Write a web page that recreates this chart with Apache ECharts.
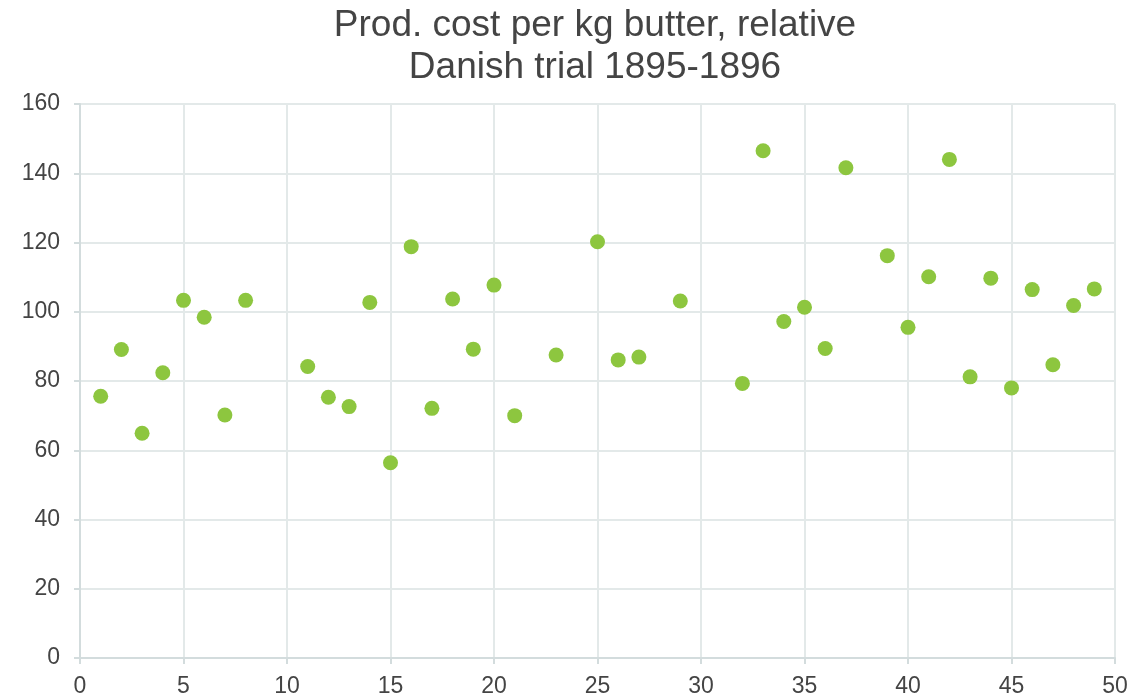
<!DOCTYPE html>
<html>
<head>
<meta charset="utf-8">
<script src="https://cdn.jsdelivr.net/npm/echarts@6/dist/echarts.min.js"></script>
<style>
  html, body { margin: 0; padding: 0; background: #fff; }
  #main { width: 1143px; height: 699px; }
</style>
</head>
<body>
<div id="main"></div>
<script>
// trial numbers and relative cost
const trialNo = [1, 2, 3, 4, 5, 6, 7, 8, 11, 12, 13, 14, 15, 16, 17, 18, 19, 20, 21, 23, 25, 26, 27, 29,
  32, 33, 34, 35, 36, 37, 39, 40, 41, 42, 43, 44, 45, 46, 47, 48, 49];
const relCost = [75.6, 89.1, 64.9, 82.4, 103.3, 98.4, 70.2, 103.3, 84.2, 75.3, 72.6, 102.7, 56.4, 118.8, 72.1, 103.7, 89.2, 107.7, 70.0, 87.5, 120.2, 86.1, 86.9, 103.1,
  79.3, 146.5, 97.2, 101.3, 89.4, 141.6, 116.2, 95.5, 110.1, 144.0, 81.2, 109.7, 78.0, 106.4, 84.7, 101.8, 106.6];
const titleLines = ['Prod. cost per kg butter, relative', 'Danish trial 1895-1896'];

const points = trialNo.map((x, i) => [x, relCost[i]]);

const myChart = echarts.init(document.getElementById('main'));

const option = {
  animation: false,
  textStyle: { fontFamily: 'Liberation Sans, Arial, sans-serif' },
  title: {
    text: titleLines.join('\n'),
    left: 590,
    textAlign: 'center',
    top: 0,
    textStyle: { fontSize: 37, fontWeight: 'normal', color: '#444', lineHeight: 42 }
  },
  grid: { left: 80, right: 28, top: 104, bottom: 41, containLabel: false },
  xAxis: {
    type: 'value',
    min: 0, max: 50, interval: 5,
    axisLine: { show: true, lineStyle: { color: '#d3dcdd', width: 2 } },
    axisTick: { show: true, length: 6, lineStyle: { color: '#d3dcdd', width: 2 } },
    axisLabel: { fontSize: 23, color: '#444', margin: 17 },
    splitLine: { show: true, lineStyle: { color: '#e3e9e9', width: 2 } }
  },
  yAxis: {
    type: 'value',
    min: 0, max: 160, interval: 20,
    axisLine: { show: true, lineStyle: { color: '#d3dcdd', width: 2 } },
    axisTick: { show: true, length: 6, lineStyle: { color: '#d3dcdd', width: 2 } },
    axisLabel: { fontSize: 23, color: '#444', margin: 20 },
    splitLine: { show: true, lineStyle: { color: '#e3e9e9', width: 2 } }
  },
  series: [
    {
      type: 'scatter',
      data: points,
      symbolSize: 15,
      itemStyle: { color: '#8dc63f', opacity: 1 }
    }
  ]
};

myChart.setOption(option);
</script>
</body>
</html>
